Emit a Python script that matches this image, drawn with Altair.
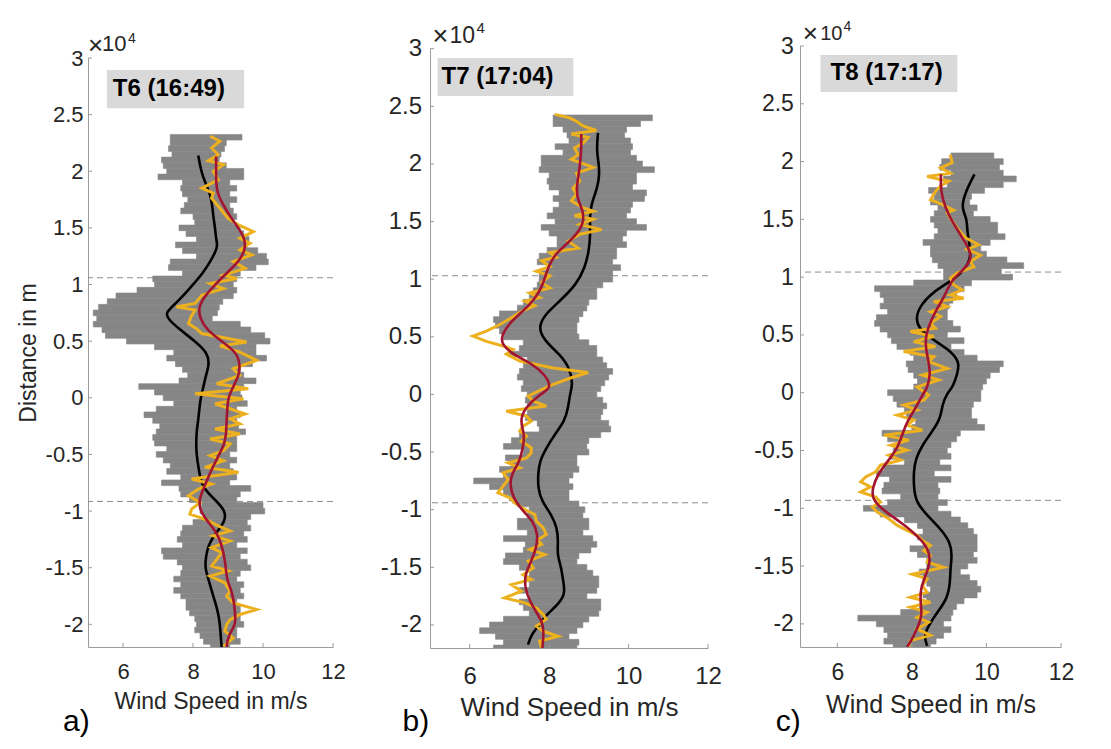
import pandas as pd
import altair as alt

FONT = "Liberation Sans"
INK = "#262626"
AXIS_GRAY = "#9b9b9b"
SCATTER_GRAY = "#868686"
YELLOW = "#EDB120"
RED = "#A2142F"
BOX_GRAY = "#d9d9d9"

X_TICKS = [6, 8, 10, 12]
Y_TICKS = [-20000, -15000, -10000, -5000, 0, 5000, 10000, 15000, 20000, 25000, 30000]

# ---------------- a) T6 (16:49) ----------------
# gray measurement cloud: left / right edge of the streaks, every 500 m from the top down
A_TOP = 23000
A_LO = [7.35, 7.35, 7.30, 7.40, 7.10, 7.15, 7.25, 7.00, 7.70, 7.65,
        7.70, 7.85, 7.75, 7.65, 8.00, 8.05, 7.60, 7.80, 8.10, 7.50,
        7.70, 8.10, 7.35, 7.30, 7.70, 6.85, 6.90, 6.40, 5.80, 5.55,
        5.30, 5.15, 5.25, 5.15, 5.40, 5.50, 6.10, 6.90, 7.45, 7.25,
        7.50, 7.70, 7.85, 7.60, 6.45, 6.90, 7.15, 7.45, 6.95, 6.60,
        6.85, 7.05, 6.95, 6.85, 6.90, 7.25, 6.95, 7.15, 7.35, 7.25,
        7.65, 7.10, 7.60, 7.65, 7.90, 8.25, 8.20, 8.30, 8.00, 7.70,
        7.65, 7.55, 7.70, 7.10, 7.15, 7.55, 7.70, 7.65, 7.45, 7.65,
        7.45, 7.65, 7.80, 7.80, 7.90, 8.05, 8.10, 8.05, 8.20, 8.30,
        8.50]
A_HI = [9.40, 8.95, 8.90, 8.80, 8.75, 8.95, 9.45, 9.45, 9.05, 9.25,
        9.05, 9.25, 9.05, 9.15, 9.25, 9.15, 9.35, 9.45, 9.60, 9.55,
        9.85, 10.10, 10.15, 9.80, 9.35, 9.25, 9.15, 9.25, 9.15, 8.85,
        8.75, 8.70, 8.55, 9.35, 9.65, 10.05, 10.20, 9.80, 9.80, 10.10,
        9.70, 9.35, 9.45, 9.80, 9.45, 9.35, 9.40, 9.55, 9.25, 9.35,
        9.25, 9.30, 9.50, 9.25, 9.25, 9.25, 9.05, 9.25, 9.05, 9.15,
        9.25, 9.05, 9.65, 9.35, 9.25, 10.00, 10.05, 9.65, 9.55, 9.65,
        9.45, 9.55, 9.25, 9.55, 9.35, 9.55, 9.65, 9.35, 9.25, 9.45,
        9.35, 9.45, 9.25, 9.35, 9.35, 9.35, 9.45, 9.25, 9.25, 9.35,
        9.05]
A_BLACK_KM = [21.4, 20, 19, 18, 17, 16, 15, 14, 13.5, 13, 12, 11, 10, 9, 8, 7.5, 7, 6, 5, 4,
              3, 2, 1, 0, -1, -2, -3, -4, -5, -6, -7, -8, -9, -10, -11, -12, -13, -14, -15, -16,
              -17, -18, -19, -20, -21, -22]
A_BLACK = [8.15, 8.23, 8.35, 8.49, 8.55, 8.58, 8.63, 8.66, 8.70, 8.66, 8.49, 8.28, 8.00, 7.72, 7.39,
           7.23, 7.27, 7.63, 8.06, 8.41, 8.47, 8.37, 8.30, 8.22, 8.18, 8.15, 8.10, 8.09, 8.10, 8.15,
           8.20, 8.30, 8.63, 8.94, 8.91, 8.63, 8.44, 8.37, 8.34, 8.44, 8.53, 8.63, 8.72, 8.77, 8.79, 8.82]
A_RED_KM = [21.3, 20, 19, 18, 17, 16, 15, 14, 13, 12, 11, 10, 9, 8, 7, 6, 5, 4, 3, 2,
            1, 0, -1, -2, -3, -4, -5, -6, -7, -8, -9, -10, -11, -12, -13, -14, -15, -16, -17, -18,
            -19, -20, -21, -22]
A_RED = [8.66, 8.66, 8.66, 8.70, 8.87, 9.06, 9.30, 9.49, 9.49, 9.30, 8.96, 8.63, 8.34, 8.15, 8.20,
         8.39, 8.82, 9.25, 9.34, 9.32, 9.15, 9.00, 8.98, 8.96, 8.95, 8.91, 8.75, 8.58, 8.44, 8.30,
         8.17, 8.20, 8.44, 8.70, 8.82, 8.89, 8.94, 8.96, 9.10, 9.17, 9.20, 9.23, 9.00, 8.96]
A_YEL_KM = [23.09, 22.65, 22.06, 21.46, 20.93, 20.58, 19.99, 19.25, 18.51, 18.07, 17.63, 16.74,
            15.85, 15.26, 14.67, 14.08, 13.64, 13.05, 12.61, 12.02, 11.43, 10.84, 10.54, 10.1,
            9.65, 9.06, 8.33, 8.03, 7.74, 7.2, 6.55, 6.11, 5.67, 4.93, 4.58, 4.04, 3.31, 2.57,
            1.98, 1.24, 0.8, 0.35, -0.09, -0.53, -0.97, -1.42, -1.86, -2.3, -2.75, -3.19, -3.63,
            -4.07, -4.66, -5.1, -5.55, -6.14, -6.58, -7.17, -7.62, -8.06, -8.65, -9.24, -9.83,
            -10.27, -10.72, -11.31, -11.75, -12.19, -12.64, -13.23, -13.67, -14.26, -14.85,
            -15.29, -15.74, -16.33, -17.07, -17.51, -18.1, -18.69, -19.13, -19.58, -20.02,
            -20.61, -21.2, -21.94]
A_YEL = [8.49, 8.77, 8.53, 8.72, 8.44, 8.87, 8.58, 8.72, 8.25, 8.58, 8.53, 8.77,
         9.00, 9.30, 9.72, 9.34, 9.63, 9.34, 9.68, 9.15, 9.49, 8.87, 9.25, 8.49,
         8.87, 8.25, 8.06, 7.53, 8.06, 7.95, 7.87, 8.10, 8.25, 9.53, 8.77, 9.34, 9.82, 9.15,
         9.34, 8.68, 9.58, 8.06, 9.44, 8.63, 9.06, 9.49, 9.06, 9.34, 8.63, 9.34, 8.49,
         9.06, 8.87, 8.49, 8.87, 8.34, 9.30, 7.96, 8.53, 8.15, 7.87, 8.20, 7.96,
         7.91, 8.34, 8.72, 9.06, 8.58, 9.06, 8.53, 8.82, 8.68, 8.53,
         9.01, 8.49, 8.91, 9.06, 8.96, 9.15, 9.82, 9.34, 9.06, 8.96,
         8.91, 9.15, 8.87]
A_DASH = [10600, -9150]

# ---------------- b) T7 (17:04) ----------------
B_TOP = 24000
B_LO = [8.10, 8.10, 8.35, 8.45, 8.50, 8.15, 8.35, 7.80, 7.80, 7.75,
        8.00, 7.95, 8.00, 8.25, 8.10, 8.25, 8.10, 7.95, 8.15, 7.80,
        8.00, 8.20, 8.20, 7.95, 7.75, 7.70, 8.00, 7.75, 7.75, 7.70,
        7.60, 7.50, 7.35, 7.20, 6.75, 6.60, 6.65, 6.75, 6.85, 7.35,
        7.25, 7.00, 7.45, 7.35, 7.25, 7.20, 7.35, 7.30, 7.45, 7.40,
        7.45, 7.45, 7.40, 7.70, 7.75, 7.25, 7.05, 6.85, 7.35, 6.90,
        7.05, 6.75, 6.85, 6.10, 6.50, 6.85, 7.00, 7.20, 7.50, 7.45,
        7.20, 7.20, 7.45, 6.85, 7.40, 7.35, 6.90, 6.85, 7.25, 7.50,
        7.45, 7.50, 7.25, 7.50, 7.25, 7.35, 7.50, 6.85, 6.50, 6.25,
        6.65, 6.85, 6.60]
B_HI = [10.60, 10.30, 9.95, 9.90, 10.05, 10.10, 10.05, 10.20, 10.35, 10.65,
        10.20, 10.20, 10.10, 10.45, 10.40, 10.10, 10.05, 9.95, 10.20, 10.45,
        9.95, 9.85, 9.95, 9.70, 9.70, 9.60, 9.80, 9.60, 9.60, 9.35,
        9.20, 9.20, 9.00, 8.95, 8.85, 8.75, 8.70, 8.70, 8.75, 9.00,
        9.20, 9.20, 9.35, 9.45, 9.60, 9.50, 9.40, 9.30, 9.20, 9.35,
        9.45, 9.35, 9.30, 9.50, 9.55, 9.30, 9.00, 8.95, 9.00, 8.70,
        8.70, 8.75, 8.60, 8.50, 8.60, 8.50, 8.50, 8.75, 8.90, 8.85,
        9.00, 9.00, 8.85, 9.10, 9.20, 9.05, 8.75, 8.70, 8.95, 9.10,
        9.25, 9.25, 9.20, 8.95, 9.30, 9.30, 9.25, 9.00, 8.85, 8.70,
        8.50, 8.75, 8.70]
B_BLACK_KM = [22.7, 21.1, 19.7, 18.5, 17.5, 16.5, 15.3, 13.9, 12.4, 11.0, 9.55, 8.1, 6.94, 5.78,
              4.63, 3.47, 2.3, 0.87, 0.0, -1.16, -2.32, -3.47, -4.63, -5.79, -6.95, -8.1, -9.26,
              -10.42, -11.58, -12.73, -13.89, -15.05, -16.2, -17.36, -18.52, -19.1, -19.97,
              -20.84, -21.7]
B_BLACK = [9.23, 9.19, 9.27, 9.25, 9.17, 9.06, 9.02, 9.04, 9.00, 8.90, 8.69, 8.27, 7.89, 7.72,
           7.89, 8.27, 8.52, 8.60, 8.52, 8.48, 8.39, 8.14, 7.93, 7.76, 7.72, 7.72, 7.81,
           8.06, 8.20, 8.23, 8.20, 8.31, 8.35, 8.42, 8.14, 7.93, 7.76, 7.55, 7.47]
B_RED_KM = [22.6, 21.1, 19.7, 18.2, 17.07, 15.9, 14.75, 13.9, 13.0, 12.15, 11.0, 10.1, 9.25, 8.1,
            7.23, 6.36, 5.2, 4.34, 3.47, 2.6, 1.73, 0.58, 0.0, -1.16, -2.32, -3.47, -4.63,
            -5.79, -6.95, -7.8, -8.97, -10.13, -11.0, -12.15, -13.31, -14.47, -15.63, -16.78,
            -17.94, -19.1, -19.97, -20.84, -22.0]
B_RED = [8.81, 8.81, 8.77, 8.70, 8.69, 8.87, 8.86, 8.69, 8.43, 8.14, 7.97, 7.89, 7.81, 7.60,
         7.34, 7.05, 6.80, 6.80, 7.09, 7.60, 7.89, 8.08, 7.76, 7.39, 7.26, 7.39, 7.34,
         7.26, 7.05, 7.01, 7.09, 7.34, 7.60, 7.72, 7.68, 7.55, 7.39, 7.39,
         7.51, 7.72, 7.85, 7.86, 7.83]
B_YEL_KM = [24.3, 24.0, 23.7, 23.3, 22.9, 22.6, 22.3, 21.8, 21.4, 20.8, 20.4, 19.7, 19.2, 18.5,
            17.9, 17.4, 16.8, 16.2, 15.9, 15.5, 15.2, 14.75, 14.3, 13.9, 13.3, 12.7, 12.3, 11.9,
            11.6, 11.1, 10.7, 10.3, 9.7, 9.25, 8.8, 8.4, 8.1, 7.7, 7.2, 6.65, 6.07, 5.5, 5.06,
            4.6, 4.2, 3.9, 3.5, 2.9, 2.3, 1.9, 1.45, 0.87, 0.43, -0.15, -0.58, -1.01, -1.45,
            -1.88, -2.32, -2.75, -3.19, -3.62, -4.06, -4.63, -5.07, -5.5, -5.94, -6.37, -6.8,
            -7.38, -7.96, -8.53, -8.97, -9.4, -9.98, -10.42, -11.0, -11.58, -12.15, -12.6,
            -13.0, -13.45, -13.9, -14.47, -15.05, -15.63, -16.06, -16.5, -17.07, -17.65,
            -18.08, -18.52, -19.1, -19.5, -20.1, -20.55, -20.98, -21.4, -22.0]
B_YEL = [8.14, 8.52, 8.69, 8.85, 9.19, 8.56, 8.98, 8.85, 8.64, 8.73, 8.56, 9.11, 8.69, 8.77,
         8.60, 8.69, 8.56, 8.85, 9.11, 8.64, 9.11, 8.77, 9.32, 8.77, 8.48, 8.73, 8.02, 8.18,
         7.81, 8.02, 7.68, 8.02, 7.81, 8.02, 7.51, 7.76, 7.39, 7.64, 7.30, 7.05, 6.76, 6.42, 6.08,
         6.42, 6.84, 7.09, 6.92, 7.26, 8.10, 8.98, 8.56, 8.10, 7.81, 7.47, 7.60, 7.93, 6.92,
         7.43, 7.55, 7.34, 7.26, 7.43, 7.30, 7.55, 7.55, 7.43, 6.97, 7.26, 6.84,
         6.97, 6.84, 6.71, 7.01, 7.13, 7.39, 7.64, 7.68, 7.85, 7.93, 7.72,
         7.81, 7.51, 7.89, 7.47, 7.60, 7.34, 7.55, 7.05, 7.30, 6.88,
         7.39, 7.68, 7.85, 7.93, 7.68, 7.85, 8.23, 7.76, 7.81]
B_DASH = [10300, -9400]

# ---------------- c) T8 (17:17) ----------------
C_TOP = 20500
C_LO = [9.05, 8.80, 8.75, 9.05, 8.85, 8.95, 8.45, 8.60, 8.50, 8.70,
        8.60, 8.50, 8.60, 8.70, 8.60, 8.30, 8.50, 8.50, 8.55, 8.70,
        8.85, 8.85, 8.05, 7.00, 7.15, 7.25, 7.15, 7.35, 7.05, 7.00,
        7.15, 7.35, 7.45, 7.60, 7.95, 8.05, 7.85, 7.90, 8.05, 8.15,
        8.05, 7.35, 7.50, 7.60, 7.80, 7.85, 8.10, 8.00, 7.20, 7.35,
        7.60, 7.50, 7.40, 7.80, 7.25, 7.05, 7.40, 7.25, 7.20, 7.70,
        7.35, 6.70, 7.15, 7.80, 8.15, 8.30, 8.15, 8.30, 7.95, 8.15,
        8.40, 8.40, 8.20, 8.30, 8.40, 8.50, 8.30, 8.40, 8.20, 7.70,
        6.55, 7.05, 7.25, 7.35, 7.25, 7.50]
C_HI = [10.20, 10.45, 10.35, 10.45, 10.80, 10.45, 9.95, 9.60, 9.55, 9.75,
        9.65, 10.10, 10.30, 10.30, 10.50, 10.10, 9.85, 10.00, 10.55, 11.00,
        10.40, 10.70, 9.60, 9.40, 9.20, 9.10, 9.00, 8.95, 8.95, 9.10,
        9.30, 8.95, 9.40, 9.05, 9.40, 9.75, 10.45, 10.35, 10.10, 10.00,
        9.90, 9.85, 9.85, 9.65, 9.60, 9.60, 9.75, 9.95, 9.30, 9.20,
        9.05, 8.95, 9.05, 8.75, 9.05, 8.60, 9.05, 8.70, 8.75, 8.70,
        8.95, 8.70, 9.05, 9.30, 9.50, 9.65, 9.75, 9.75, 9.75, 9.65,
        9.75, 9.50, 9.30, 9.55, 9.75, 9.85, 9.75, 9.40, 9.20, 9.10,
        9.05, 8.85, 9.05, 8.85, 8.65, 8.50]
C_BLACK_KM = [18.9, 17.4, 16.0, 15.1, 14.0, 12.8, 11.65, 10.5, 9.63, 8.76, 7.6, 6.45, 5.58, 4.71,
              3.85, 2.69, 1.53, 0.38, 0.0, -1.07, -2.23, -3.38, -4.54, -5.7, -6.85, -8.0, -9.45,
              -10.6, -11.77, -12.92, -14.08, -15.24, -16.39, -17.84, -19.0, -20.15, -21.0, -21.9]
C_BLACK = [9.68, 9.44, 9.32, 9.48, 9.48, 9.55, 9.59, 9.39, 9.03, 8.59, 8.23, 8.10, 8.19, 8.50,
           8.95, 9.30, 9.21, 9.08, 8.95, 8.81, 8.77, 8.54, 8.28, 8.10, 8.05, 8.05, 8.10,
           8.41, 8.77, 9.03, 9.08, 9.03, 9.03, 8.95, 8.68, 8.45, 8.32, 8.41]
C_RED_KM = [18.9, 17.4, 16.0, 14.8, 13.7, 12.5, 11.65, 10.8, 9.63, 8.47, 7.31, 6.16, 5.0, 3.85,
            2.69, 1.53, 0.38, -0.2, -1.36, -2.5, -3.67, -4.83, -5.98, -7.14, -8.3, -9.16, -10.0,
            -11.2, -12.34, -13.5, -14.66, -15.8, -16.97, -18.13, -19.28, -20.44, -21.6, -22.0]
C_RED = [8.78, 8.77, 8.90, 9.08, 9.30, 9.53, 9.61, 9.44, 9.03, 8.90, 8.68, 8.50, 8.37, 8.37,
         8.45, 8.50, 8.41, 8.28, 8.10, 7.87, 7.74, 7.61, 7.34, 7.07, 6.94, 6.94, 7.16,
         7.70, 8.14, 8.45, 8.50, 8.37, 8.23, 8.23, 8.28, 8.14, 7.96, 7.87]
C_YEL_KM = [20.6, 19.9, 19.46, 19.0, 18.7, 18.3, 17.9, 17.4, 16.7, 16.3, 15.8, 15.55, 15.1, 14.25,
            13.4, 12.8, 12.4, 11.9, 11.36, 10.9, 10.35, 9.9, 9.34, 8.9, 8.47, 8.18, 7.9, 7.46,
            7.0, 6.6, 6.0, 5.58, 5.3, 4.86, 4.42, 4.0, 3.56, 3.12, 2.69, 2.1, 1.53, 1.1, 0.5,
            -0.2, -0.64, -1.07, -1.5, -1.94, -2.37, -2.8, -3.24, -3.67, -4.1, -4.54, -4.97,
            -5.41, -5.84, -6.27, -6.85, -7.29, -7.72, -8.15, -8.59, -9.02, -9.45, -9.89,
            -10.32, -10.9, -11.48, -11.91, -12.34, -12.78, -13.21, -13.65, -14.08, -14.66,
            -15.1, -15.7, -16.1, -16.68, -17.26, -17.7, -18.13, -18.56, -19.0, -19.43, -19.86,
            -20.44, -21.0, -21.45, -22.0]
C_YEL = [9.03, 9.08, 8.77, 9.03, 8.41, 8.99, 8.77, 8.63, 8.50, 8.81, 9.12, 8.95, 9.03, 9.21,
         9.44, 9.79, 9.48, 9.84, 9.57, 9.66, 9.21, 9.03, 9.12, 9.35, 9.03, 9.39, 8.59, 8.95,
         8.50, 8.77, 8.50, 8.63, 7.96, 8.59, 8.05, 8.63, 7.78, 8.59, 8.45, 8.95, 8.28, 8.72, 8.14,
         8.45, 8.32, 7.78, 8.14, 7.61, 8.05, 7.87, 8.28, 7.25, 7.92, 7.43, 7.87,
         7.38, 7.70, 7.16, 7.03, 6.76, 6.63, 6.89, 6.63, 7.03, 7.16, 6.94,
         7.07, 7.38, 7.61, 7.87, 8.14, 8.28, 8.50, 8.32, 8.50, 8.41,
         8.85, 8.01, 8.41, 8.28, 8.41, 7.96, 8.50, 7.96, 8.41, 8.14, 8.45,
         8.14, 8.50, 7.96, 7.92]
C_DASH = [10440, -9310]

PANELS = [
    dict(tag="T6 (16:49)", letter="a)", top=A_TOP, lo=A_LO, hi=A_HI,
         black=(A_BLACK_KM, A_BLACK), red=(A_RED_KM, A_RED), yel=(A_YEL_KM, A_YEL), dash=A_DASH,
         box=(5.54, 9.46, 25570, 28940), tag_at=(5.71, 27250), ytitle="Distance in m"),
    dict(tag="T7 (17:04)", letter="b)", top=B_TOP, lo=B_LO, hi=B_HI,
         black=(B_BLACK_KM, B_BLACK), red=(B_RED_KM, B_RED), yel=(B_YEL_KM, B_YEL), dash=B_DASH,
         box=(5.19, 8.61, 25890, 29190), tag_at=(5.29, 27540), ytitle=None),
    dict(tag="T8 (17:17)", letter="c)", top=C_TOP, lo=C_LO, hi=C_HI,
         black=(C_BLACK_KM, C_BLACK), red=(C_RED_KM, C_RED), yel=(C_YEL_KM, C_YEL), dash=C_DASH,
         box=(5.55, 9.22, 26020, 29230), tag_at=(5.82, 27670), ytitle=None),
]

# per-panel sizes (the three figures were pasted at slightly different scales);
# yt = gap between the top of the view and the 3e4 end of the axis
LAYOUT = [
    dict(w=245, h=601, yt=12, lab=22, tit=23, ylp=5, ytp=5, xlp=14.5, xtp=8,
         times=(0, -4, 26), ten=(14, -7, 22), four=(40, -15, 14), spacer=(260.5, -20), letter=(-25, 84)),
    dict(w=278, h=602, yt=2.7, lab=24, tit=26, ylp=8.5, ytp=5, xlp=16, xtp=6,
         times=(2.5, -4, 27), ten=(19.5, -5.7, 23), four=(46.5, -15.7, 15), spacer=(1, -20), letter=(-27.5, 82.7)),
    dict(w=261, h=601, yt=0, lab=23, tit=25, ylp=6.6, ytp=5, xlp=14.3, xtp=8.5,
         times=(2.7, -4, 26), ten=(20.2, -6, 20), four=(43.5, -15, 14), spacer=(1, -37), letter=(-24.3, 84.3)),
]


def line_df(pair):
    km, vals = pair
    return pd.DataFrame({"d": [k * 1000 for k in km], "v": vals})


def one_text(txt, x, y, size, color=INK):
    return alt.Chart(pd.DataFrame({"t": [txt]})).mark_text(
        font=FONT, fontSize=size, color=color, align="left", baseline="alphabetic"
    ).encode(x=alt.value(x), y=alt.value(y), text="t:N")


def panel(p, lay):
    w, h, yt = lay["w"], lay["h"], lay["yt"]
    xs = alt.Scale(domain=[5, 12], nice=False, zero=False)
    ys = alt.Scale(domain=[-22000, 30000], range=[h, yt], nice=False, zero=False)
    common = dict(grid=False, ticks=False, tickSize=0, domainColor=AXIS_GRAY, domainWidth=1,
                  labelColor=INK, titleColor=INK, labelFont=FONT, titleFont=FONT,
                  labelFontSize=lay["lab"], titleFontSize=lay["tit"], titleFontWeight="normal",
                  labelFlush=False, labelOverlap=False)
    xax = alt.Axis(values=X_TICKS, title="Wind Speed in m/s", labelPadding=lay["xlp"],
                   titlePadding=lay["xtp"], **common)
    yax = alt.Axis(values=Y_TICKS, title=p["ytitle"], labelExpr="datum.value / 10000 + ''",
                   labelPadding=lay["ylp"], titlePadding=lay["ytp"], **common)

    env = pd.DataFrame({"lo": p["lo"], "hi": p["hi"]})
    env["d"] = [p["top"] - 500 * i for i in range(len(env))]
    env["d1"] = env["d"] - 250
    env["d2"] = env["d"] + 250

    cloud = alt.Chart(env).mark_rect(color=SCATTER_GRAY, stroke=SCATTER_GRAY, strokeWidth=0.6,
                                     clip=True).encode(
        x=alt.X("lo:Q", scale=xs, axis=xax), x2="hi:Q",
        y=alt.Y("d1:Q", scale=ys, axis=yax), y2="d2:Q")

    dash = alt.Chart(pd.DataFrame({"d": p["dash"]})).mark_rule(
        color="#8c8c8c", strokeDash=[6, 4], strokeWidth=1).encode(
        y=alt.Y("d:Q", scale=ys, axis=yax))

    def curve(pair, color, width, interp):
        return alt.Chart(line_df(pair)).mark_line(
            color=color, strokeWidth=width, interpolate=interp, clip=True).encode(
            x=alt.X("v:Q", scale=xs, axis=xax), y=alt.Y("d:Q", scale=ys, axis=yax), order="d:Q")

    black = curve(p["black"], "black", 2.6, "basis")
    yel = curve(p["yel"], YELLOW, 3.0, "linear")
    red = curve(p["red"], RED, 2.6, "basis")

    ytk = alt.Chart(pd.DataFrame({"d": Y_TICKS})).mark_rule(color=AXIS_GRAY).encode(
        y=alt.Y("d:Q", scale=ys, axis=yax), x=alt.value(0), x2=alt.value(4))
    xtk = alt.Chart(pd.DataFrame({"v": X_TICKS})).mark_rule(color=AXIS_GRAY).encode(
        x=alt.X("v:Q", scale=xs, axis=xax), y=alt.value(h), y2=alt.value(h - 4))

    bx = p["box"]
    box = alt.Chart(pd.DataFrame({"x1": [bx[0]], "x2": [bx[1]], "y1": [bx[2]], "y2": [bx[3]]})).mark_rect(
        color=BOX_GRAY).encode(
        x=alt.X("x1:Q", scale=xs, axis=xax), x2="x2:Q",
        y=alt.Y("y1:Q", scale=ys, axis=yax), y2="y2:Q")
    tag = alt.Chart(pd.DataFrame({"x": [p["tag_at"][0]], "y": [p["tag_at"][1]], "t": [p["tag"]]})).mark_text(
        font=FONT, fontSize=24, fontWeight="bold", color="black", align="left", baseline="middle").encode(
        x=alt.X("x:Q", scale=xs, axis=xax), y=alt.Y("y:Q", scale=ys, axis=yax), text="t:N")

    # the "x10^4" exponent written above the axis, MATLAB style
    tx, ty, ts = lay["times"]
    nx, ny, ns = lay["ten"]
    fx, fy, fs = lay["four"]
    exp_times = one_text("×", tx, yt + ty, ts)
    exp_ten = one_text("10", nx, yt + ny, ns)
    exp_four = one_text("4", fx, yt + fy, fs)

    sx, sy = lay["spacer"]
    spacer = alt.Chart(pd.DataFrame({"k": [0]})).mark_rule(color="white", strokeWidth=1).encode(
        x=alt.value(0), x2=alt.value(sx), y=alt.value(sy), y2=alt.value(sy))

    lx, ly = lay["letter"]
    letter = one_text(p["letter"], lx, h + ly, 30, color="black")

    return alt.layer(cloud, dash, black, yel, red, ytk, xtk, box, tag,
                     exp_times, exp_ten, exp_four, spacer, letter).properties(width=w, height=h)


charts = [panel(p, lay) for p, lay in zip(PANELS, LAYOUT)]

chart = alt.hconcat(*charts, spacing=31).properties(
    padding={"left": 9, "top": 0, "right": 0, "bottom": 0},
    background="white",
).configure_view(stroke=None)

chart.save("out.html", embed_options={"renderer": "svg", "actions": False})
